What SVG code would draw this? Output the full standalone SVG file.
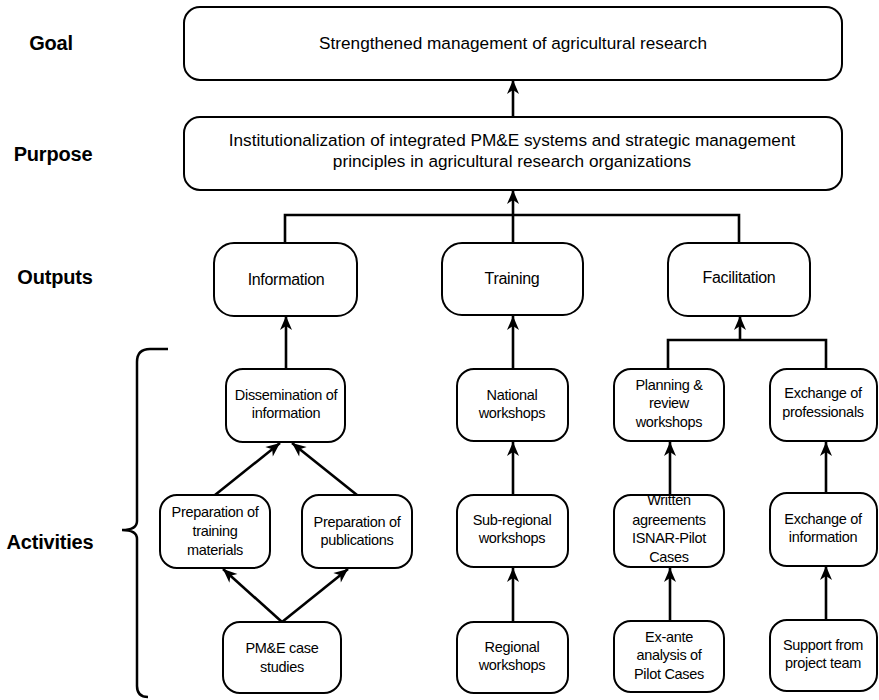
<svg xmlns="http://www.w3.org/2000/svg" width="879" height="700" viewBox="0 0 879 700">
<style>
.box{fill:#fff;stroke:#000;stroke-width:2}
.c{fill:none;stroke:#000;stroke-width:2.6}
.ca{fill:none;stroke:#000;stroke-width:2.6;marker-end:url(#ah)}
text{font-family:"Liberation Sans",Arial,sans-serif;fill:#000;text-anchor:middle}
.big{font-size:17.2px}
.out{font-size:16px;letter-spacing:-0.3px}
.act{font-size:14.5px;letter-spacing:-0.3px}
.lbl{font-size:20px;font-weight:bold;letter-spacing:-0.2px}
</style>
<defs>
<marker id="ah" markerWidth="16" markerHeight="14" refX="15" refY="7" orient="auto" markerUnits="userSpaceOnUse" viewBox="0 0 16 14">
<path d="M15,7 L1,1 L5,7 L1,13 Z" fill="#000"/>
</marker>
</defs>
<g id="labels">
<text class="lbl" x="51" y="50">Goal</text>
<text class="lbl" x="53" y="161">Purpose</text>
<text class="lbl" x="55" y="284">Outputs</text>
<text class="lbl" x="50" y="549">Activities</text>
<path d="M168,349 H150 Q137,349 137,362 V521 Q137,530 122,530 Q137,530 137,539 V686 Q137,697 148,697" fill="none" stroke="#000" stroke-width="2.5"/>
</g>
<g id="connectors">
<line class="ca" x1="513" y1="117" x2="513" y2="80"/>
<line class="ca" x1="513" y1="243" x2="513" y2="190"/>
<polyline class="c" points="285,243 285,215 739,215 739,243"/>
<line class="ca" x1="286" y1="369" x2="286" y2="316"/>
<line class="ca" x1="513" y1="369" x2="513" y2="316"/>
<line class="ca" x1="740" y1="340" x2="740" y2="316"/>
<polyline class="c" points="668,369 668,340 826,340 826,369"/>
<line class="ca" x1="215" y1="495" x2="280" y2="443"/>
<line class="ca" x1="357" y1="495" x2="292" y2="443"/>
<line class="ca" x1="282" y1="622" x2="223" y2="569"/>
<line class="ca" x1="282" y1="622" x2="348" y2="569"/>
<line class="ca" x1="513" y1="495" x2="513" y2="442"/>
<line class="ca" x1="513" y1="622" x2="513" y2="568"/>
<line class="ca" x1="670" y1="495" x2="670" y2="442"/>
<line class="ca" x1="670" y1="622" x2="670" y2="568"/>
<line class="ca" x1="826" y1="493" x2="826" y2="442"/>
<line class="ca" x1="826" y1="620" x2="826" y2="566"/>
</g>
<g id="goal">
<rect class="box" x="184" y="7" width="658" height="73" rx="16"/>
<text class="big" x="513" y="49">Strengthened management of agricultural research</text>
</g>
<g id="purpose">
<rect class="box" x="184" y="117" width="658" height="73" rx="16"/>
<text class="big" x="512" y="146">Institutionalization of integrated PM&amp;E systems and strategic management</text>
<text class="big" x="512" y="167">principles in agricultural research organizations</text>
</g>
<g id="information">
<rect class="box" x="214" y="243" width="143" height="73" rx="20"/>
<text class="out" x="286" y="285">Information</text>
</g>
<g id="training">
<rect class="box" x="442" y="243" width="141" height="72" rx="20"/>
<text class="out" x="512" y="284">Training</text>
</g>
<g id="facilitation">
<rect class="box" x="668" y="243" width="142" height="73" rx="20"/>
<text class="out" x="739" y="283">Facilitation</text>
</g>
<g id="dissemination">
<rect class="box" x="226" y="369" width="119" height="73" rx="17"/>
<text class="act" x="286" y="400">Dissemination of</text>
<text class="act" x="286" y="418">information</text>
</g>
<g id="national">
<rect class="box" x="457" y="369" width="111" height="72" rx="17"/>
<text class="act" x="512" y="400">National</text>
<text class="act" x="512" y="418">workshops</text>
</g>
<g id="planning">
<rect class="box" x="614" y="369" width="110" height="72" rx="17"/>
<text class="act" x="669" y="390">Planning &amp;</text>
<text class="act" x="669" y="408">review</text>
<text class="act" x="669" y="427">workshops</text>
</g>
<g id="exchange-professionals">
<rect class="box" x="770" y="369" width="107" height="72" rx="17"/>
<text class="act" x="823" y="398">Exchange of</text>
<text class="act" x="823" y="417">professionals</text>
</g>
<g id="prep-training">
<rect class="box" x="160" y="495" width="110" height="73" rx="17"/>
<text class="act" x="215" y="517">Preparation of</text>
<text class="act" x="215" y="536">training</text>
<text class="act" x="215" y="555">materials</text>
</g>
<g id="prep-publications">
<rect class="box" x="302" y="495" width="110" height="73" rx="17"/>
<text class="act" x="357" y="527">Preparation of</text>
<text class="act" x="357" y="545">publications</text>
</g>
<g id="sub-regional">
<rect class="box" x="457" y="495" width="111" height="72" rx="17"/>
<text class="act" x="512" y="525">Sub-regional</text>
<text class="act" x="512" y="543">workshops</text>
</g>
<g id="written">
<rect class="box" x="614" y="495" width="110" height="72" rx="17"/>
<text class="act" x="669" y="505">Written</text>
<text class="act" x="669" y="525">agreements</text>
<text class="act" x="669" y="543">ISNAR-Pilot</text>
<text class="act" x="669" y="562">Cases</text>
</g>
<g id="exchange-information">
<rect class="box" x="770" y="493" width="107" height="73" rx="17"/>
<text class="act" x="823" y="524">Exchange of</text>
<text class="act" x="823" y="542">information</text>
</g>
<g id="pme-case">
<rect class="box" x="223" y="622" width="118" height="71" rx="17"/>
<text class="act" x="282" y="653">PM&amp;E case</text>
<text class="act" x="282" y="672">studies</text>
</g>
<g id="regional">
<rect class="box" x="457" y="622" width="111" height="71" rx="17"/>
<text class="act" x="512" y="652">Regional</text>
<text class="act" x="512" y="670">workshops</text>
</g>
<g id="ex-ante">
<rect class="box" x="614" y="621" width="110" height="71" rx="17"/>
<text class="act" x="669" y="642">Ex-ante</text>
<text class="act" x="669" y="660">analysis of</text>
<text class="act" x="669" y="679">Pilot Cases</text>
</g>
<g id="support">
<rect class="box" x="770" y="620" width="107" height="71" rx="17"/>
<text class="act" x="823" y="650">Support from</text>
<text class="act" x="823" y="668">project team</text>
</g>
</svg>
